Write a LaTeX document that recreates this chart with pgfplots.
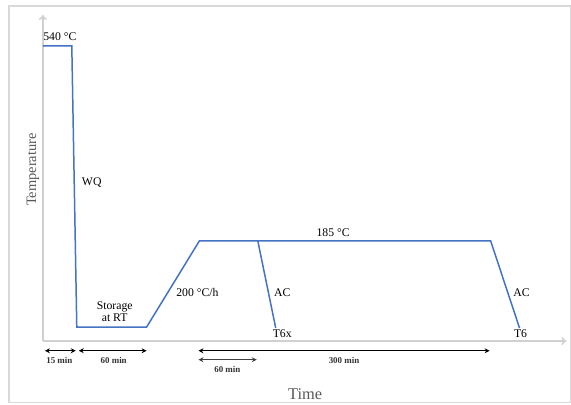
\documentclass[border=0pt]{standalone}
\usepackage{pgfplots}
\pgfplotsset{compat=1.18}
\usepackage{fontspec}
\setmainfont{Liberation Serif}
\usetikzlibrary{arrows.meta}
\definecolor{lineblue}{RGB}{68,114,196}
\definecolor{axgray}{RGB}{208,208,208}
\definecolor{bordergray}{RGB}{217,217,217}
\definecolor{txtgray}{RGB}{89,89,89}
\begin{document}
\begin{tikzpicture}
\begin{axis}[
  scale only axis, width=571bp, height=406bp,
  xmin=0, xmax=571, ymin=0, ymax=406,
  hide axis, clip=false,
]
% frame
\draw[bordergray, line width=1.2bp] (axis cs:9,2) rectangle (axis cs:572,400);
% axes (y = 406 - pixel row)
\draw[axgray, line width=1.5bp, -{To[length=5bp,width=8bp]}] (axis cs:43,64) -- (axis cs:43,391);
\draw[axgray, line width=1.5bp, -{To[length=5bp,width=8bp]}] (axis cs:43,64) -- (axis cs:568,64);
% heat treatment curve
\addplot[lineblue, line width=1.5bp, mark=none] coordinates {
  (43,360) (72,360) (77,78) (147,78) (200,164.5) (492,164.5) (521,77)
};
\addplot[lineblue, line width=1.5bp, mark=none] coordinates {
  (258.5,164.5) (276.5,77)
};
% labels
\node[font=\fontsize{11.8}{13}\selectfont] at (axis cs:60,369) {540 °C};
\node[font=\fontsize{11.8}{13}\selectfont] at (axis cs:92,223) {WQ};
\node[font=\fontsize{11.8}{13}\selectfont, align=center] at (axis cs:115,93) {Storage\\[-1pt]at RT};
\node[font=\fontsize{11.8}{13}\selectfont] at (axis cs:198,113) {200 °C/h};
\node[font=\fontsize{11.8}{13}\selectfont] at (axis cs:283,113) {AC};
\node[font=\fontsize{11.8}{13}\selectfont] at (axis cs:334,173) {185 °C};
\node[font=\fontsize{11.8}{13}\selectfont] at (axis cs:523,113) {AC};
\node[font=\fontsize{11.8}{13}\selectfont] at (axis cs:283,71) {T6x};
\node[font=\fontsize{11.8}{13}\selectfont] at (axis cs:522,71) {T6};
\node[font=\fontsize{16.5}{18}\selectfont, text=txtgray] at (axis cs:306,11) {Time};
\node[font=\fontsize{14.5}{16}\selectfont, text=txtgray, rotate=90] at (axis cs:33,236) {Temperature};
% time arrows
\draw[black, line width=1bp, {Stealth[length=5bp,width=5bp]}-{Stealth[length=5bp,width=5bp]}] (axis cs:45,54.3) -- (axis cs:76,54.3);
\draw[black, line width=1bp, {Stealth[length=5bp,width=5bp]}-{Stealth[length=5bp,width=5bp]}] (axis cs:79,54.3) -- (axis cs:147,54.3);
\draw[black, line width=1bp, {Stealth[length=5bp,width=5bp]}-{Stealth[length=5bp,width=5bp]}] (axis cs:199,54.3) -- (axis cs:491,54.3);
\draw[black!75, line width=1bp, {Stealth[length=5bp,width=5bp]}-{Stealth[length=5bp,width=5bp]}] (axis cs:199,45.3) -- (axis cs:257.5,45.3);
\node[font=\fontsize{9}{10}\selectfont\bfseries, text=black!80] at (axis cs:59.5,44.5) {15 min};
\node[font=\fontsize{9}{10}\selectfont\bfseries, text=black!80] at (axis cs:114,44.5) {60 min};
\node[font=\fontsize{9}{10}\selectfont\bfseries, text=black!80] at (axis cs:345,44.5) {300 min};
\node[font=\fontsize{9}{10}\selectfont\bfseries, text=black!80] at (axis cs:228,35.5) {60 min};
\end{axis}
\path (0,0) rectangle (571bp,406bp);
\end{tikzpicture}
\end{document}
